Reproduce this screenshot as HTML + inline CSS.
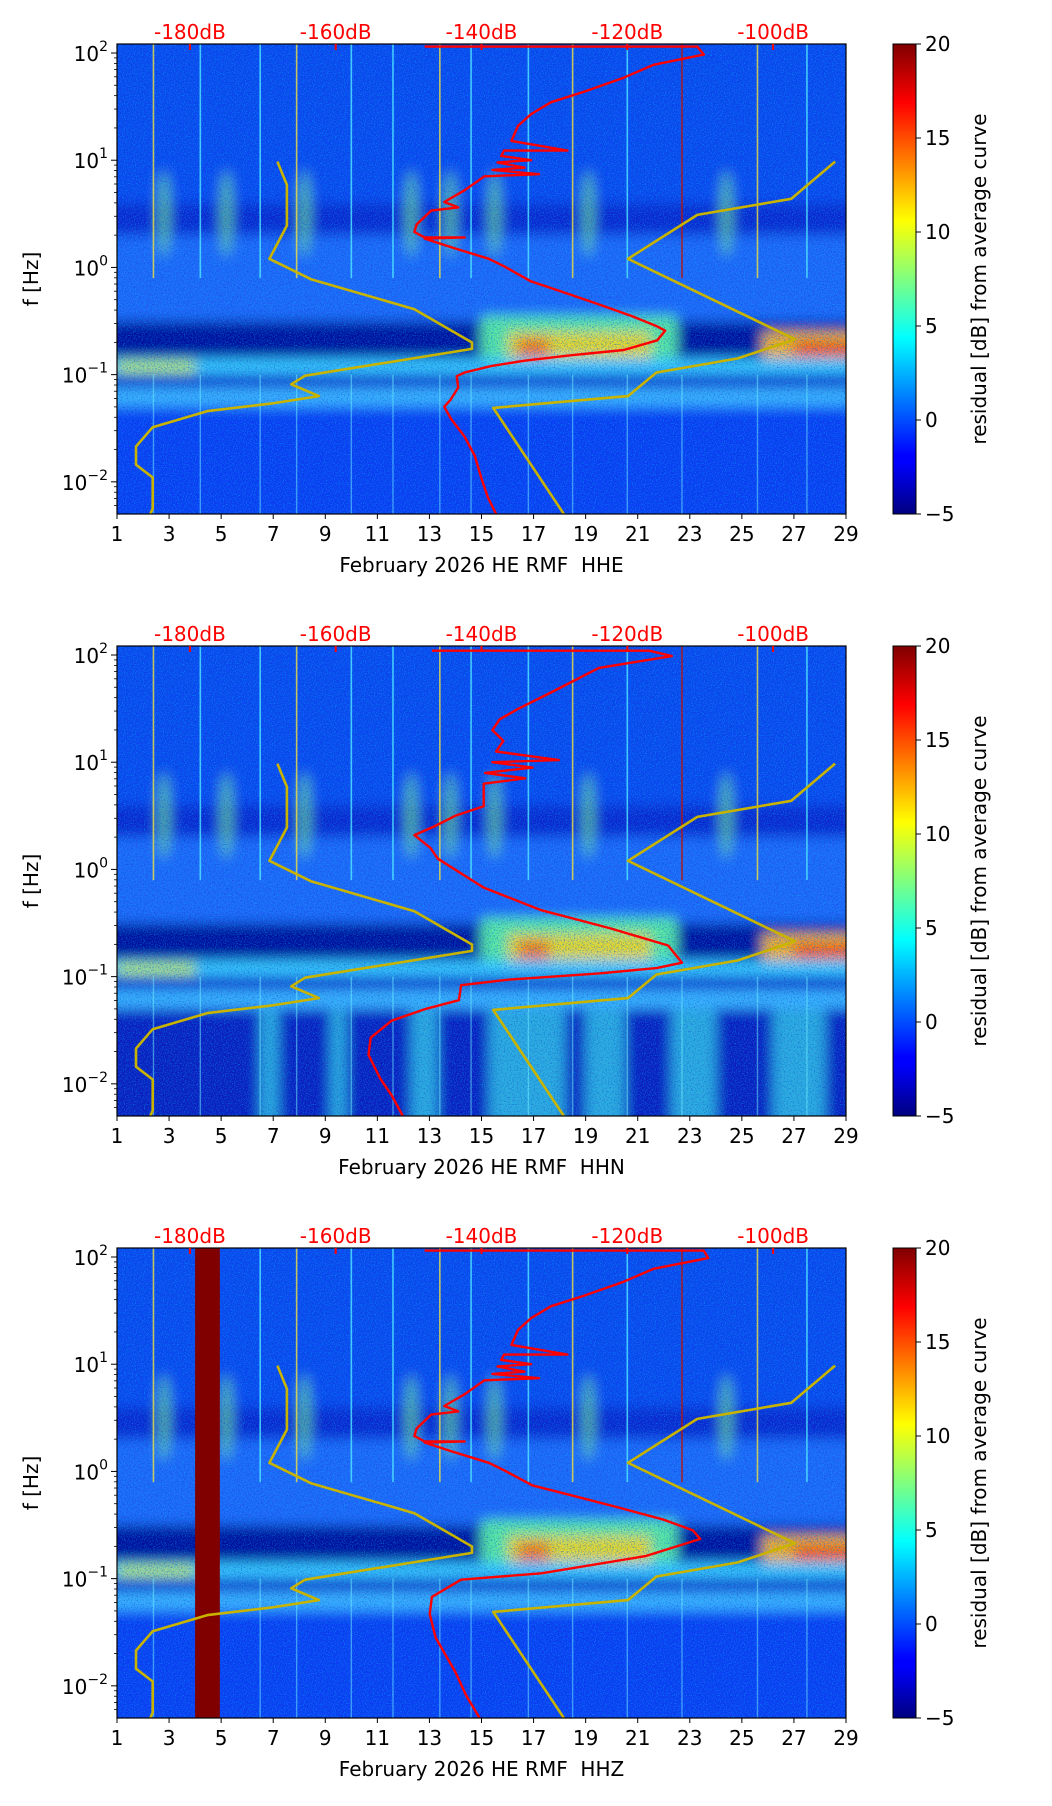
<!DOCTYPE html>
<html><head><meta charset="utf-8"><style>
html,body{margin:0;padding:0;background:#fff;}
svg{display:block;font-family:"DejaVu Sans","Liberation Sans",sans-serif;}
</style></head><body>
<svg id="fig" width="1052" height="1806" viewBox="0 0 1052 1806" xmlns="http://www.w3.org/2000/svg">
<defs>
<linearGradient id="jet" x1="0" y1="1" x2="0" y2="0">
<stop offset="0" stop-color="#000080"/><stop offset="0.11" stop-color="#0000ff"/><stop offset="0.125" stop-color="#0000ff"/>
<stop offset="0.375" stop-color="#00ffff"/><stop offset="0.625" stop-color="#ffff00"/><stop offset="0.875" stop-color="#ff0000"/><stop offset="1" stop-color="#800000"/>
</linearGradient>
<filter id="blur6" x="-30%" y="-30%" width="160%" height="160%"><feGaussianBlur stdDeviation="6"/></filter>
<filter id="noise" x="0" y="0" width="100%" height="100%">
<feTurbulence type="fractalNoise" baseFrequency="0.9" numOctaves="2" seed="3"/>
<feColorMatrix type="matrix" values="0 0 0 0 0  0 0 0 0 0.65  0 0 0 0 1  3.5 0 0 0 -1.7"/>
</filter>
<filter id="noiseDark" x="0" y="0" width="100%" height="100%">
<feTurbulence type="fractalNoise" baseFrequency="0.7" numOctaves="2" seed="8"/>
<feColorMatrix type="matrix" values="0 0 0 0 0  0 0 0 0 0.05  0 0 0 0 0.6  3.5 0 0 0 -1.7"/>
</filter>
</defs>
</svg>
<script>
// ---- data ----
const dayTicks = [1,3,5,7,9,11,13,15,17,19,21,23,25,27,29];
const dbTicks = [-180,-160,-140,-120,-100];
const decadeTicks = [2,1,0,-1,-2];
const cbarTicks = [20,15,10,5,0,-5];
const panelNames = ["HHE","HHN","HHZ"];
// red PSD curves: dB values and log10(freq)
const red1DB = [-147.8,-110.4,-109.5,-116.4,-120.5,-125.9,-130.5,-133.2,-135.0,-135.9,-128.2,-136.9,-137.3,-133.2,-137.8,-134.1,-138.5,-132.1,-139.6,-142.3,-145.1,-143.2,-146.9,-148.9,-149.2,-147.8,-142.3,-147.8,-144.2,-139.0,-136.9,-133.2,-128.6,-124.1,-119.5,-115.9,-114.8,-115.9,-120.5,-127.8,-134.1,-138.7,-142.3,-143.4,-143.2,-144.2,-145.1,-144.2,-142.3,-140.9,-140.0,-139.1,-138.0];
const red1LF = [2.06,2.06,1.985,1.89,1.77,1.64,1.54,1.43,1.32,1.18,1.09,1.09,1.04,1.0,0.98,0.93,0.91,0.87,0.85,0.72,0.61,0.56,0.53,0.40,0.33,0.28,0.28,0.27,0.19,0.08,0.01,-0.13,-0.235,-0.34,-0.45,-0.55,-0.59,-0.68,-0.77,-0.82,-0.87,-0.92,-0.98,-1.015,-1.12,-1.23,-1.30,-1.41,-1.58,-1.76,-1.97,-2.15,-2.3];
const red2DB = [-146.8,-117,-113.9,-123.9,-130.2,-134.9,-137.5,-138.5,-137,-138,-129.4,-138.5,-133,-139.5,-134,-139.7,-139.7,-143.6,-146.5,-149.2,-147,-146,-139.7,-131.8,-122.3,-114.4,-112.5,-116,-123.9,-136.5,-142.8,-143.1,-147.6,-152.3,-155.2,-155.5,-153.9,-152.3,-150.8];
const red2LF = [2.04,2.04,1.99,1.88,1.66,1.50,1.40,1.30,1.2,1.1,1.02,1.0,0.95,0.9,0.85,0.8,0.59,0.50,0.40,0.32,0.2,0.10,-0.17,-0.38,-0.55,-0.71,-0.87,-0.92,-0.97,-1.03,-1.08,-1.22,-1.30,-1.41,-1.57,-1.73,-1.95,-2.11,-2.3];
const red3DB = [-147.8,-109.5,-108.9,-116.4,-120.5,-125.9,-130.5,-133.2,-135.0,-135.9,-128.2,-136.9,-137.3,-133.2,-137.8,-134.1,-138.5,-132.1,-139.6,-142.3,-145.1,-143.2,-146.9,-148.9,-149.2,-147.8,-142.3,-147.8,-144.2,-139.0,-136.9,-133,-127,-121,-115,-111,-110,-117.5,-131.8,-142.8,-146.8,-147.1,-146.3,-143.6,-142.1,-140];
const red3LF = [2.06,2.06,1.99,1.89,1.77,1.64,1.54,1.43,1.32,1.18,1.09,1.09,1.04,1.0,0.98,0.93,0.91,0.87,0.85,0.72,0.61,0.56,0.53,0.40,0.33,0.28,0.28,0.27,0.19,0.08,0.01,-0.13,-0.235,-0.34,-0.45,-0.55,-0.63,-0.79,-0.95,-1.01,-1.17,-1.33,-1.55,-1.87,-2.09,-2.33];
// Peterson noise models (yellow)
const nlnmDB = [-168,-166.7,-166.7,-169.1,-163.4,-149.2,-141.3,-141.3,-164.2,-166.1,-162.3,-168.9,-177.6,-185.1,-187.4,-187.4,-185.1,-185.1,-185.5];
const nlnmLF = [0.987,0.77,0.39,0.08,-0.11,-0.39,-0.70,-0.76,-1.01,-1.09,-1.20,-1.27,-1.34,-1.49,-1.67,-1.84,-1.96,-2.25,-2.31];
const nhnmDB = [-91.5,-97.5,-110.4,-119.9,-97.0,-104.9,-116,-119.9,-138.4,-128.6];
const nhnmLF = [0.987,0.64,0.49,0.08,-0.67,-0.85,-0.98,-1.2,-1.31,-2.31];
// spectrogram features (days)
const streakDays = [2.4,4.2,6.5,7.9,10.0,11.6,13.4,14.6,16.8,18.5,20.6,22.7,25.6,27.5];
const burstDays = [2.8,5.2,8.2,12.3,13.8,15.5,19.1,24.4];
const quakeDays = [4.0,4.95];

// ---- scales ----
const X0=117,X1=846,PH=470,LFMAX=2.084,LFMIN=-2.3;
const xDay = d => X0 + (d-1)/28*(X1-X0);
const xDB = v => X0 + (v+190)/100*(X1-X0);
const yLF = (lf,top) => top + (LFMAX-lf)/(LFMAX-LFMIN)*PH;
const NS="http://www.w3.org/2000/svg";
const svg=document.getElementById('fig');
function mk(tag,attrs,parent){const e=document.createElementNS(NS,tag);for(const k in attrs)e.setAttribute(k,attrs[k]);(parent||svg).appendChild(e);return e;}

const tops=[44,646,1248];
const reds=[[red1DB,red1LF],[red2DB,red2LF],[red3DB,red3LF]];
const FS='20px';

tops.forEach((top,pi)=>{
  const g=mk('g',{});
  
  
  const cid='clip'+pi;
  const cp=mk('clipPath',{id:cid},g); mk('rect',{x:X0,y:top,width:X1-X0,height:PH},cp);
  const bg=mk('g',{'clip-path':'url(#'+cid+')'},g);
  
  
  const Y=lf=>yLF(lf,top);
  mk('rect',{x:X0,y:top,width:X1-X0,height:PH,fill:'#0b3cf2'},bg);
  const blurG=mk('g',{filter:'url(#blur6)'},bg);
  mk('rect',{x:X0-20,y:Y(2.2),width:760,height:Y(0.6)-Y(2.2),fill:'#1046f0'},blurG);
  mk('rect',{x:X0-20,y:Y(0.6),width:760,height:Y(0.3)-Y(0.6),fill:'#0828d0'},blurG);
  mk('rect',{x:X0-20,y:Y(0.3),width:760,height:Y(-0.5)-Y(0.3),fill:'#2466fa'},blurG);
  mk('rect',{x:X0-20,y:Y(-0.5),width:760,height:Y(-0.85)-Y(-0.5),fill:'#000c9a'},blurG);
  mk('rect',{x:xDay(15),y:Y(-0.45),width:xDay(22.5)-xDay(15),height:Y(-0.9)-Y(-0.45),fill:'#5ee8a0'},blurG);
  mk('rect',{x:xDay(16),y:Y(-0.6),width:xDay(21.5)-xDay(16),height:Y(-0.85)-Y(-0.6),fill:'#f0d820'},blurG);
  mk('rect',{x:xDay(16.4),y:Y(-0.66),width:xDay(17.6)-xDay(16.4),height:Y(-0.85)-Y(-0.66),fill:'#ff7a00'},blurG);
  mk('rect',{x:xDay(25.8),y:Y(-0.6),width:xDay(29.5)-xDay(25.8),height:Y(-0.85)-Y(-0.6),fill:'#ffb000'},blurG);
  mk('rect',{x:xDay(27),y:Y(-0.7),width:xDay(29.5)-xDay(27),height:Y(-0.82)-Y(-0.7),fill:'#ff3000'},blurG);
  mk('rect',{x:X0-20,y:Y(-0.85),width:760,height:Y(-1.0)-Y(-0.85),fill:'#3cc8ff'},blurG);
  mk('rect',{x:xDay(1),y:Y(-0.88),width:xDay(4)-xDay(1),height:Y(-0.98)-Y(-0.88),fill:'#c8f040'},blurG);
  mk('rect',{x:X0-20,y:Y(-1.0),width:760,height:Y(-1.12)-Y(-1.0),fill:'#071cc8'},blurG);
  mk('rect',{x:X0-20,y:Y(-1.12),width:760,height:Y(-1.3)-Y(-1.12),fill:'#40b0ff'},blurG);
  mk('rect',{x:X0-20,y:Y(-1.3),width:760,height:Y(-2.4)-Y(-1.3),fill:pi===1?'#0a1fbf':'#0b3ef4'},blurG);
  if(pi===1){
    [[12.3,13.3],[15.3,18.2],[19,20.5],[22.3,24],[26.2,28.2],[6.5,7.2],[9.2,9.8]].forEach(b=>{
      mk('rect',{x:xDay(b[0]),y:Y(-1.3),width:xDay(b[1])-xDay(b[0]),height:Y(-2.4)-Y(-1.3),fill:'#40d8e8',opacity:0.75},blurG);
    });
  }
  burstDays.forEach((d,i)=>{
    const b=mk('ellipse',{cx:xDay(d),cy:Y(0.5),rx:6,ry:(Y(0.3)-Y(0.8))*0.8,fill:'#7ee880',opacity:0.7},blurG);
    
    
  });
  mk('rect',{x:X0,y:top,width:X1-X0,height:PH,filter:'url(#noiseDark)',opacity:0.45},bg);
  mk('rect',{x:X0,y:top,width:X1-X0,height:PH,filter:'url(#noise)',opacity:0.4},bg);
  streakDays.forEach((d,i)=>{
    const s=mk('rect',{x:xDay(d)-0.8,y:top,width:1.6,height:Y(-0.1)-top,fill:i===11?'#c01000':(i%3===0?'#f0e040':'#50e8ff'),opacity:0.8},bg);
    
    
    mk('rect',{x:xDay(d)-0.7,y:Y(-1.0),width:1.4,height:Y(-2.4)-Y(-1.0),fill:'#70f0ff',opacity:0.5},bg);
  });
  if(pi===2){
    const q=mk('rect',{x:xDay(quakeDays[0]),y:top,width:xDay(quakeDays[1])-xDay(quakeDays[0]),height:PH,fill:'#800000'},bg);
    
    
  }
  const lineG=mk('g',{'clip-path':'url(#'+cid+')'},g);
  const pts=(db,lf)=>db.map((v,i)=>xDB(v).toFixed(1)+','+Y(lf[i]).toFixed(1)).join(' ');
  const l1=mk('polyline',{points:pts(nlnmDB,nlnmLF),fill:'none',stroke:'#c8b400',"stroke-width":2.6,"stroke-linejoin":'round'},lineG);
  
  
  const l2=mk('polyline',{points:pts(nhnmDB,nhnmLF),fill:'none',stroke:'#c8b400',"stroke-width":2.6,"stroke-linejoin":'round'},lineG);
  
  
  const r=mk('polyline',{points:pts(reds[pi][0],reds[pi][1]),fill:'none',stroke:'#ff0000',"stroke-width":2.4,"stroke-linejoin":'round'},lineG);
  
  
  mk('rect',{x:X0,y:top,width:X1-X0,height:PH,fill:'none',stroke:'#000','stroke-width':1.2},g);
  const xt=mk('g',{},g);
  
  
  dayTicks.forEach(d=>{
    mk('line',{x1:xDay(d),x2:xDay(d),y1:top+PH,y2:top+PH+5,stroke:'#000','stroke-width':1},xt);
    const t=mk('text',{x:xDay(d),y:top+PH+27,'text-anchor':'middle','font-size':FS,fill:'#000'},xt);
    t.textContent=d;
    
    
  });
  const xl=mk('text',{x:(X0+X1)/2,y:top+PH+58,'text-anchor':'middle','font-size':FS,fill:'#000'},g);
  xl.textContent='February 2026 HE RMF\u00a0\u00a0'+panelNames[pi];
  
  
  dbTicks.forEach(v=>{
    mk('line',{x1:xDB(v),x2:xDB(v),y1:top,y2:top+6,stroke:'#ff0000','stroke-width':2},g);
    const t=mk('text',{x:xDB(v),y:top-5,'text-anchor':'middle','font-size':FS,fill:'#ff0000'},g);
    t.textContent=v+'dB';
    
    
  });
  const yt=mk('g',{},g);
  
  
  decadeTicks.forEach(e=>{
    mk('line',{x1:X0-6,x2:X0,y1:Y(e),y2:Y(e),stroke:'#000','stroke-width':1},yt);
    const t=mk('text',{x:X0-9,y:Y(e)+8,'text-anchor':'end','font-size':FS,fill:'#000'},yt);
    t.innerHTML='10<tspan dy="-10" font-size="14px">'+(e<0?'\u2212'+(-e):e)+'</tspan>';
    
    
    for(let m=2;m<10;m++){const lf=e+Math.log10(m);
      if(lf<=LFMAX&&lf>=LFMIN) mk('line',{x1:X0-3,x2:X0,y1:Y(lf),y2:Y(lf),stroke:'#000','stroke-width':0.8},yt);
      const lf2=e-1+Math.log10(m); if(e===-2&&lf2>=LFMIN) mk('line',{x1:X0-3,x2:X0,y1:Y(lf2),y2:Y(lf2),stroke:'#000','stroke-width':0.8},yt);}
  });
  const yl=mk('text',{x:0,y:0,transform:'translate(38,'+(top+PH/2)+') rotate(-90)','text-anchor':'middle','font-size':FS,fill:'#000'},g);
  yl.textContent='f [Hz]';
  
  
  const cb=mk('g',{},g);
  
  
  mk('rect',{x:893,y:top,width:23,height:PH,fill:'url(#jet)',stroke:'#000','stroke-width':1},cb);
  cbarTicks.forEach(v=>{
    const yy=top+(20-v)/25*PH;
    mk('line',{x1:916,x2:921,y1:yy,y2:yy,stroke:'#000','stroke-width':1},cb);
    const t=mk('text',{x:925,y:yy+7,'font-size':FS,fill:'#000'},cb);
    t.textContent=v<0?'\u2212'+(-v):v;
    
    
  });
  const cl=mk('text',{x:0,y:0,transform:'translate(986,'+(top+PH/2)+') rotate(-90)','text-anchor':'middle','font-size':FS,fill:'#000'},cb);
  cl.textContent='residual [dB] from average curve';
  
  
});
</script>
</body></html>
